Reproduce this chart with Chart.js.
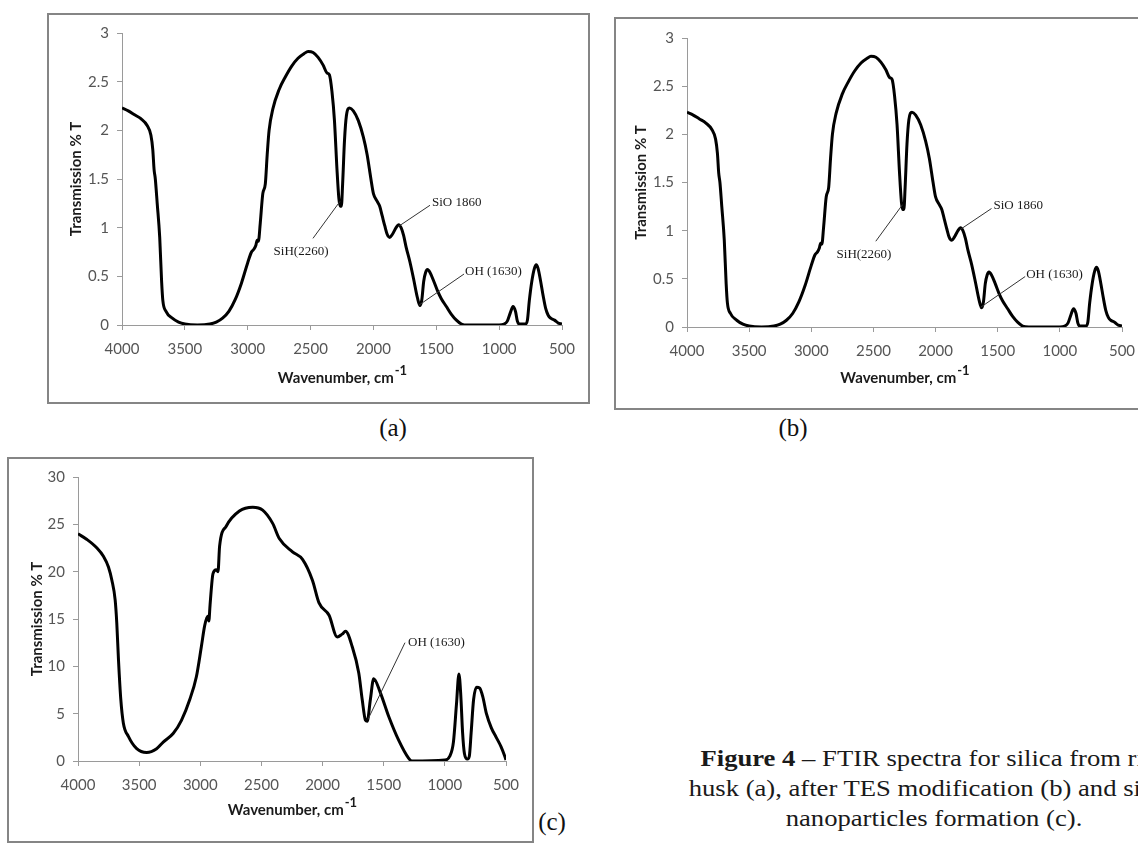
<!DOCTYPE html>
<html lang="en">
<head>
<meta charset="UTF-8">
<title>FTIR spectra</title>
<script src="https://cdn.jsdelivr.net/npm/chart.js@4.4.1/dist/chart.umd.min.js"></script>
<style>
    html, body { margin: 0; padding: 0; background: #fff; width: 1138px; height: 846px; overflow: hidden; position: relative; }
    .panel { position: absolute; border: 2px solid #858585; box-sizing: border-box; background: #fff; }
    .panel canvas { display: block; }
    .tag { position: absolute; font-family: "Liberation Serif", "Times New Roman", serif; font-size: 25px; color: #111; transform: translate(-50%, -50%); }
    #caption { position: absolute; left: 584px; top: 743px; width: 700px; text-align: center; font-family: "Liberation Serif", serif;
               font-size: 24px; line-height: 30px; color: #1a1a1a; white-space: nowrap; transform: scaleX(1.11); transform-origin: 350px 0; }
</style>
</head>
<body>
    <div class="tag" style="left:393px; top:428px">(a)</div>
    <div class="tag" style="left:793px; top:428px">(b)</div>
    <div class="tag" style="left:552px; top:822px">(c)</div>
    <div id="caption">
        <b>Figure 4</b> – FTIR spectra for silica from rice<br>
        husk (a), after TES modification (b) and silica<br>
        nanoparticles formation (c).
    </div>

<script>
// ***********
// Values: wavenumber (cm-1) and transmission (% T)
// ***********

// (a) silica from rice husk, (b) after TES modification shows the same trace
var waveA = [4000, 3950, 3900, 3850, 3800, 3770, 3755, 3745, 3735, 3720, 3700, 3685, 3675, 3650, 3600, 3550, 3500, 3400, 3300, 3250,
             3200, 3150, 3100, 3050, 3000, 2970, 2950, 2935, 2925, 2915, 2900, 2880, 2860, 2845, 2830, 2800, 2750, 2700, 2650, 2600,
             2550, 2520, 2480, 2440, 2400, 2370, 2350, 2330, 2310, 2290, 2275, 2265, 2255, 2245, 2230, 2215, 2190, 2160, 2120, 2080,
             2050, 2020, 2000, 1970, 1950, 1930, 1910, 1890, 1870, 1850, 1820, 1800, 1780, 1760, 1740, 1710, 1680, 1650, 1630, 1615,
             1600, 1585, 1570, 1550, 1520, 1490, 1460, 1420, 1380, 1340, 1300, 1250, 1000, 960, 935, 910, 890, 870, 855, 840,
             790, 775, 760, 740, 720, 705, 690, 670, 650, 630, 610, 590, 560, 530, 500];
var transA = [2.23, 2.20, 2.16, 2.12, 2.05, 1.95, 1.80, 1.60, 1.50, 1.25, 0.90, 0.45, 0.25, 0.14, 0.07, 0.03, 0.01, 0.00, 0.01, 0.03,
              0.07, 0.14, 0.26, 0.43, 0.64, 0.75, 0.78, 0.82, 0.87, 0.86, 1.05, 1.35, 1.45, 1.75, 2.00, 2.22, 2.42, 2.55, 2.66, 2.74,
              2.79, 2.81, 2.80, 2.75, 2.67, 2.59, 2.57, 2.40, 2.10, 1.60, 1.30, 1.22, 1.22, 1.45, 1.90, 2.15, 2.23, 2.20, 2.10, 1.93,
              1.75, 1.50, 1.35, 1.27, 1.22, 1.12, 1.02, 0.93, 0.90, 0.93, 1.00, 1.03, 1.00, 0.92, 0.80, 0.65, 0.47, 0.28, 0.20, 0.26,
              0.45, 0.54, 0.57, 0.54, 0.45, 0.35, 0.27, 0.19, 0.11, 0.05, 0.01, 0.00, 0.00, 0.01, 0.04, 0.13, 0.19, 0.14, 0.04, 0.01,
              0.01, 0.05, 0.25, 0.45, 0.58, 0.62, 0.58, 0.45, 0.30, 0.17, 0.10, 0.07, 0.05, 0.02, 0.01];

// (c) silica nanoparticles
var waveC = [4000, 3927, 3845, 3791, 3751, 3723, 3696, 3683, 3669, 3650, 3629, 3588, 3520, 3439, 3357, 3303, 3222, 3154, 3086, 3032,
             2991, 2964, 2940, 2930, 2920, 2896, 2869, 2855, 2842, 2788, 2680, 2571, 2490, 2408, 2354, 2246, 2164, 2083, 2029, 1947,
             1880, 1840, 1812, 1758, 1704, 1676, 1649, 1635, 1609, 1582, 1527, 1459, 1378, 1297, 1270, 1000, 960, 930, 905, 885,
             870, 855, 840, 815, 800, 785, 765, 740, 715, 690, 660, 620, 580, 540, 510, 500];
var transC = [24.0, 23.4, 22.5, 21.6, 20.5, 19.1, 17.0, 14.6, 10.7, 6.5, 4.0, 2.6, 1.3, 0.9, 1.3, 2.0, 2.9, 4.3, 6.5, 8.9,
              12.1, 14.3, 15.3, 14.8, 16.5, 19.8, 20.2, 20.0, 22.7, 24.8, 26.4, 26.8, 26.5, 25.1, 23.5, 22.1, 21.3, 19.1, 16.7, 15.4,
              13.1, 13.4, 13.7, 12.1, 9.3, 6.5, 4.3, 4.2, 6.5, 8.7, 7.2, 4.7, 2.2, 0.3, 0.0, 0.1, 0.5, 2.0, 6.0, 9.2,
              7.0, 3.0, 0.8, 0.2, 0.5, 3.0, 6.5, 7.8, 7.7, 6.8, 5.0, 3.5, 2.5, 1.5, 0.5, 0.1];

// tick labels
var xTicks = [4000, 3500, 3000, 2500, 2000, 1500, 1000, 500];
var yTicksA = [0, 0.5, 1, 1.5, 2, 2.5, 3];
var yTicksC = [0, 5, 10, 15, 20, 25, 30];

// peak labels, placed in data units
var notesA = [
    {text: 'SiH(2260)', at: [2576, 0.75], align: 'center', line: [2481, 0.89, 2266, 1.27]},
    {text: 'SiO 1860', at: [1534, 1.26], align: 'left', line: [1804, 1.01, 1550, 1.23]},
    {text: 'OH (1630)', at: [1271, 0.545], align: 'left', line: [1637, 0.205, 1279, 0.524]}
];
var notesC = [
    {text: 'OH (1630)', at: [1301, 12.5], align: 'left', line: [1629, 4.4, 1326, 12.5]}
];


// ******************
// Draw the three panels
// ******************
Chart.defaults.font.family = 'Lato, "Liberation Sans", sans-serif';
Chart.defaults.animation = false;

var decor = {
    id: 'decor',
    afterDraw: function(chart, args, opts) {
        var ctx = chart.ctx, area = chart.chartArea;
        var sx = chart.scales.x, sy = chart.scales.y;
        ctx.save();
        ctx.fillStyle = '#1a1a1a';

        // y axis title
        ctx.font = 'bold 15px Lato, sans-serif';
        ctx.textAlign = 'center';
        ctx.textBaseline = 'middle';
        ctx.translate(area.left - opts.yTitleGap, (area.top + area.bottom) / 2);
        ctx.rotate(-Math.PI / 2);
        ctx.fillText('Transmission % T', 0, 0);
        ctx.setTransform(1, 0, 0, 1, 0, 0);

        // x axis title with superscript
        var main = 'Wavenumber, cm', sup = '-1';
        ctx.font = 'bold 15px Lato, sans-serif';
        var w1 = ctx.measureText(main).width;
        ctx.font = 'bold 13px Lato, sans-serif';
        var w2 = ctx.measureText(sup).width;
        var x0 = (area.left + area.right) / 2 - (w1 + w2) / 2;
        var y0 = area.bottom + opts.xTitleGap;
        ctx.textAlign = 'left';
        ctx.font = 'bold 15px Lato, sans-serif';
        ctx.fillText(main, x0, y0);
        ctx.font = 'bold 13px Lato, sans-serif';
        ctx.fillText(sup, x0 + w1 + 1, y0 - 7);

        // peak labels with leader lines
        ctx.strokeStyle = '#333';
        ctx.lineWidth = 1;
        ctx.font = '13px "Liberation Serif", serif';
        (opts.notes || []).forEach(function(n) {
            ctx.beginPath();
            ctx.moveTo(sx.getPixelForValue(n.line[0]), sy.getPixelForValue(n.line[1]));
            ctx.lineTo(sx.getPixelForValue(n.line[2]), sy.getPixelForValue(n.line[3]));
            ctx.stroke();
            ctx.textAlign = n.align;
            ctx.fillText(n.text, sx.getPixelForValue(n.at[0]), sy.getPixelForValue(n.at[1]));
        });
        ctx.restore();
    }
};

// Build one framed panel; box is the frame, area the plot area, both in page pixels
function buildPanel(box, area, waves, trans, yTicks, yMax, opts) {
    var div = document.createElement('div');
    div.className = 'panel';
    div.style.left = box.l + 'px';
    div.style.top = box.t + 'px';
    div.style.width = (box.r - box.l) + 'px';
    div.style.height = (box.b - box.t) + 'px';
    var canvas = document.createElement('canvas');
    var cw = box.r - box.l - 4, ch = box.b - box.t - 4;
    canvas.width = cw;
    canvas.height = ch;
    div.appendChild(canvas);
    document.body.appendChild(div);

    var yWidth = area.l - box.l - 2;
    var xHeight = box.b - 2 - area.b;
    var points = waves.map(function(w, i) { return {x: w, y: trans[i]}; });

    new Chart(canvas, {
        type: 'line',
        data: {datasets: [{
            data: points,
            borderColor: '#000',
            borderWidth: 3,
            pointRadius: 0,
            cubicInterpolationMode: 'monotone'
        }]},
        options: {
            responsive: false,
            devicePixelRatio: 1,
            layout: {padding: {top: area.t - box.t - 2, right: box.r - 2 - area.r, left: 0, bottom: 0}},
            plugins: {legend: {display: false}, tooltip: {enabled: false}, decor: opts},
            scales: {
                x: {
                    type: 'linear', reverse: true, min: 500, max: 4000,
                    afterBuildTicks: function(s) { s.ticks = xTicks.map(function(v) { return {value: v}; }); },
                    afterFit: function(s) { s.height = xHeight; },
                    grid: {drawOnChartArea: false, tickLength: 5, color: '#9a9a9a'},
                    border: {color: '#9a9a9a'},
                    ticks: {color: '#555', font: {size: 15}, padding: 10, maxRotation: 0,
                            callback: function(v) { return String(v); }}
                },
                y: {
                    min: 0, max: yMax,
                    afterBuildTicks: function(s) { s.ticks = yTicks.map(function(v) { return {value: v}; }); },
                    afterFit: function(s) { s.width = yWidth; },
                    grid: {drawOnChartArea: false, tickLength: 5, color: '#9a9a9a'},
                    border: {color: '#9a9a9a'},
                    ticks: {color: '#555', font: {size: 15}, padding: 8,
                            callback: function(v) { return String(v); }}
                }
            }
        },
        plugins: [decor]
    });
}

buildPanel({l: 47, t: 13, r: 590, b: 404}, {l: 122, t: 33, r: 562, b: 325},
           waveA, transA, yTicksA, 3, {yTitleGap: 46, xTitleGap: 53, notes: notesA});
buildPanel({l: 614, t: 17, r: 1149, b: 410}, {l: 687, t: 38, r: 1122, b: 327},
           waveA, transA, yTicksA, 3, {yTitleGap: 46, xTitleGap: 51, notes: notesA});
buildPanel({l: 7, t: 457, r: 534, b: 843}, {l: 78, t: 477, r: 506, b: 761},
           waveC, transC, yTicksC, 30, {yTitleGap: 41, xTitleGap: 49, notes: notesC});
</script>
</body>
</html>
